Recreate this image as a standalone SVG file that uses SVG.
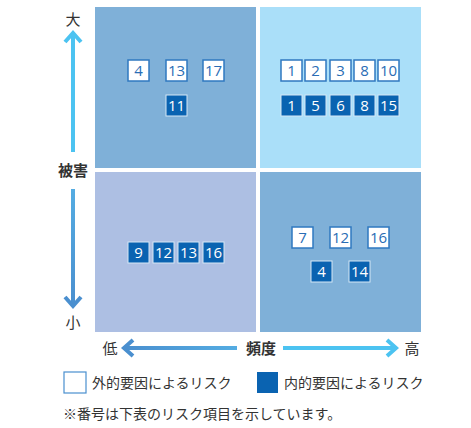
<svg xmlns="http://www.w3.org/2000/svg" width="471" height="428" viewBox="0 0 471 428">
<defs>
<style>
.q{stroke:none}
.ext rect{fill:#fff;stroke:#2f78c0;stroke-width:1.5}
.ext text{fill:#2a6db5}
.int rect{fill:#0a63b1;stroke:#d6e8f6;stroke-width:1}
.int text{fill:#fff}
.n{font-family:"Open Sans","Noto Sans",sans-serif;font-size:15px;text-anchor:middle}
.jp{font-family:"Noto Sans CJK JP",sans-serif;fill:#333}
.lbl{font-size:15px;text-anchor:middle}
.b{font-weight:bold}
.leg{font-size:14px}
</style>
<linearGradient id="gDn" gradientUnits="userSpaceOnUse" x1="0" y1="189" x2="0" y2="306"><stop offset="0" stop-color="#54ace2"/><stop offset="1" stop-color="#4a8fcf"/></linearGradient>
<linearGradient id="gL" gradientUnits="userSpaceOnUse" x1="124" y1="0" x2="237" y2="0"><stop offset="0" stop-color="#4a8fcf"/><stop offset="1" stop-color="#54ace2"/></linearGradient>
</defs>

<g id="quadrants">
<rect id="q-tl" class="q" x="95" y="7" width="161" height="161" fill="#7fb0d8"/>
<rect id="q-tr" class="q" x="260" y="7" width="161" height="161" fill="#aadff9"/>
<rect id="q-bl" class="q" x="95" y="172" width="161" height="160" fill="#adbfe3"/>
<rect id="q-br" class="q" x="260" y="172" width="161" height="160" fill="#7fb0d8"/>
</g>

<g id="connectors">
<path d="M73 152 V33" stroke="#4cc3f1" stroke-width="4" fill="none"/>
<path d="M65 42 L73 33 L81 42" stroke="#4cc3f1" stroke-width="4" fill="none"/>
<path d="M73 189 V306" stroke="url(#gDn)" stroke-width="4" fill="none"/>
<path d="M65 297 L73 306 L81 297" stroke="#4a8fcf" stroke-width="4" fill="none"/>
<path d="M124 348 H237" stroke="url(#gL)" stroke-width="4" fill="none"/>
<path d="M133 340 L124 348 L133 356" stroke="#4a8fcf" stroke-width="4" fill="none"/>
<path d="M283 348 H396" stroke="#4cc3f1" stroke-width="4" fill="none"/>
<path d="M387 340 L396 348 L387 356" stroke="#4cc3f1" stroke-width="4" fill="none"/>
</g>

<g id="axis-labels">
<text class="jp lbl" x="73" y="25">大</text>
<text class="jp lbl b" x="73" y="176">被害</text>
<text class="jp lbl" x="73" y="328">小</text>
<text class="jp lbl" x="110" y="354">低</text>
<text class="jp lbl b" x="261" y="354">頻度</text>
<text class="jp lbl" x="412" y="354">高</text>
</g>

<g id="tl-items">
<g class="ext"><rect x="128" y="60" width="21" height="21"/><text class="n" x="138.5" y="76">4</text></g>
<g class="ext"><rect x="166" y="60" width="21" height="21"/><text class="n" x="176.5" y="76">13</text></g>
<g class="ext"><rect x="203" y="60" width="21" height="21"/><text class="n" x="213.5" y="76">17</text></g>
<g class="int"><rect x="166" y="95" width="21" height="21"/><text class="n" x="176.5" y="111">11</text></g>
</g>

<g id="tr-items">
<g class="ext"><rect x="281" y="60" width="21" height="21"/><text class="n" x="291.5" y="76">1</text></g>
<g class="ext"><rect x="305" y="60" width="21" height="21"/><text class="n" x="315.5" y="76">2</text></g>
<g class="ext"><rect x="330" y="60" width="21" height="21"/><text class="n" x="340.5" y="76">3</text></g>
<g class="ext"><rect x="354" y="60" width="21" height="21"/><text class="n" x="364.5" y="76">8</text></g>
<g class="ext"><rect x="378" y="60" width="21" height="21"/><text class="n" x="388.5" y="76">10</text></g>
<g class="int"><rect x="281" y="95" width="21" height="21"/><text class="n" x="291.5" y="111">1</text></g>
<g class="int"><rect x="305" y="95" width="21" height="21"/><text class="n" x="315.5" y="111">5</text></g>
<g class="int"><rect x="330" y="95" width="21" height="21"/><text class="n" x="340.5" y="111">6</text></g>
<g class="int"><rect x="354" y="95" width="21" height="21"/><text class="n" x="364.5" y="111">8</text></g>
<g class="int"><rect x="378" y="95" width="21" height="21"/><text class="n" x="388.5" y="111">15</text></g>
</g>

<g id="bl-items">
<g class="int"><rect x="128" y="242" width="21" height="21"/><text class="n" x="138.5" y="258">9</text></g>
<g class="int"><rect x="153" y="242" width="21" height="21"/><text class="n" x="163.5" y="258">12</text></g>
<g class="int"><rect x="178" y="242" width="21" height="21"/><text class="n" x="188.5" y="258">13</text></g>
<g class="int"><rect x="203" y="242" width="21" height="21"/><text class="n" x="213.5" y="258">16</text></g>
</g>

<g id="br-items">
<g class="ext"><rect x="292" y="227" width="21" height="21"/><text class="n" x="302.5" y="243">7</text></g>
<g class="ext"><rect x="330" y="227" width="21" height="21"/><text class="n" x="340.5" y="243">12</text></g>
<g class="ext"><rect x="368" y="227" width="21" height="21"/><text class="n" x="378.5" y="243">16</text></g>
<g class="int"><rect x="311" y="261" width="21" height="21"/><text class="n" x="321.5" y="277">4</text></g>
<g class="int"><rect x="349" y="261" width="21" height="21"/><text class="n" x="359.5" y="277">14</text></g>
</g>

<g id="legend">
<rect x="64" y="372" width="22" height="21" fill="#fff" stroke="#4a8fcf" stroke-width="1.2"/>
<text class="jp leg" x="92" y="388">外的要因によるリスク</text>
<rect x="257" y="372" width="21" height="21" fill="#0a63b1"/>
<text class="jp leg" x="284" y="388">内的要因によるリスク</text>
<text class="jp leg" x="63" y="419">※番号は下表のリスク項目を示しています。</text>
</g>
</svg>
